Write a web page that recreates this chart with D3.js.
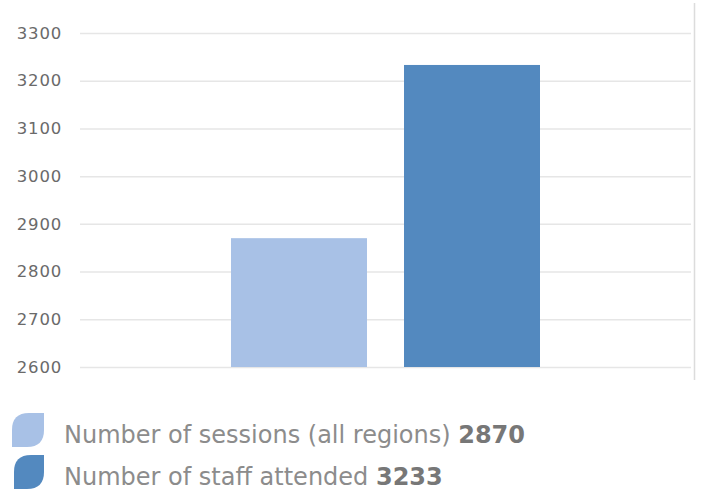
<!DOCTYPE html>
<html>
<head>
<meta charset="utf-8">
<script src="https://cdn.jsdelivr.net/npm/d3@7"></script>
<style>
  body { margin: 0; background: #fff; }
  svg { display: block; }
  .tick text { font-family: "DejaVu Sans", sans-serif; }
</style>
</head>
<body>
<div id="chart"></div>
<script>
var width = 701,
    height = 493;

// data
var seriesNames = ["Number of sessions (all regions)", "Number of staff attended"];
var seriesValues = [2870, 3233];
var seriesColors = ["#a8c1e6", "#5389bf"];
var yTicks = [2600, 2700, 2800, 2900, 3000, 3100, 3200, 3300];

var margin = {top: 33, right: 10, bottom: 126, left: 80};
var plotRight = 691;

var svg = d3.select("#chart").append("svg")
    .attr("width", width)
    .attr("height", height);

var y = d3.scaleLinear()
    .domain([2600, 3300])
    .range([367, 33]);

var x0 = d3.scaleBand()
    .domain(["all"])
    .range([margin.left, plotRight])
    .paddingInner(0)
    .paddingOuter(0.4887);

var x1 = d3.scaleBand()
    .domain(seriesNames)
    .range([x0("all"), x0("all") + x0.bandwidth()])
    .paddingInner(0.214)
    .paddingOuter(0);

// gridlines + labels
var yAxis = d3.axisLeft(y)
    .tickValues(yTicks)
    .tickSize(-(plotRight - margin.left))
    .tickPadding(18)
    .tickFormat(d3.format("d"));

var gy = svg.append("g")
    .attr("transform", "translate(" + margin.left + ",0)")
    .call(yAxis);

gy.select(".domain").remove();
gy.selectAll(".tick line")
    .attr("stroke", "#e6e6e6")
    .attr("stroke-width", 1.5);
gy.selectAll(".tick text")
    .attr("fill", "#6a6a6a")
    .attr("font-size", "16.5px")
    .attr("letter-spacing", "0.8px");

// right border line
svg.append("line")
    .attr("x1", 694.5).attr("x2", 694.5)
    .attr("y1", 3).attr("y2", 380)
    .attr("stroke", "#dcdcdc")
    .attr("stroke-width", 1.5);

// bars
svg.append("g")
    .selectAll("rect")
    .data(seriesValues)
    .enter()
    .append("rect")
    .attr("x", function(d, i) { return x1(seriesNames[i]); })
    .attr("width", x1.bandwidth())
    .attr("y", function(d) { return y(d); })
    .attr("height", function(d) { return y(2600) - y(d); })
    .attr("fill", function(d, i) { return seriesColors[i]; });

// legend
function leaf(w, h, r) {
    return "M0," + r + "Q0,0 " + r + ",0L" + w + ",0L" + w + "," + (h - r) +
        "Q" + w + "," + h + " " + (w - r) + "," + h + "L0," + h + "Z";
}

var legend = svg.append("g")
    .selectAll("g")
    .data(seriesNames)
    .enter()
    .append("g")
    .attr("transform", function(d, i) { return "translate(0," + (413 + i * 42) + ")"; });

legend.append("path")
    .attr("transform", function(d, i) { return "translate(" + (i == 0 ? 12 : 14) + ",0)"; })
    .attr("d", function(d, i) { return leaf(i == 0 ? 32 : 30, 34, 17); })
    .attr("fill", function(d, i) { return seriesColors[i]; });

var lt = legend.append("text")
    .attr("x", 64)
    .attr("y", 30)
    .attr("font-family", "'DejaVu Sans', sans-serif")
    .attr("font-size", "24px")
    .attr("fill", "#8c8c8c");

lt.append("tspan")
    .text(function(d) { return d + " "; });

lt.append("tspan")
    .attr("font-weight", "bold")
    .attr("fill", "#777")
    .text(function(d, i) { return seriesValues[i]; });
</script>
</body>
</html>
